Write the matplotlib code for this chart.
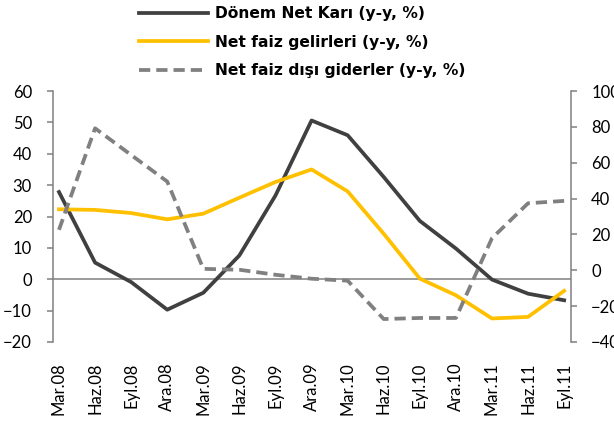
import matplotlib
matplotlib.use("Agg")
import matplotlib.pyplot as plt
import numpy as np

plt.rcParams['font.family'] = ['Lato', 'DejaVu Sans']

categories = ["Mar.08", "Haz.08", "Eyl.08", "Ara.08", "Mar.09", "Haz.09", "Eyl.09", "Ara.09",
              "Mar.10", "Haz.10", "Eyl.10", "Ara.10", "Mar.11", "Haz.11", "Eyl.11"]
net_kar = [27.8, 5.3, -0.9, -9.7, -4.3, 7.6, 26.7, 50.6, 45.9, 32.6, 18.6, 9.8, -0.1, -4.6, -6.7]
faiz_gelir = [22.3, 22.1, 21.1, 19.1, 20.9, 26.0, 31.0, 35.0, 28.0, 14.5, 0.2, -5.1, -12.5, -12.0, -3.7]
faiz_disi_gider = [22.6, 79.2, 64.3, 49.5, 0.8, 0.3, -2.5, -4.7, -5.8, -27.2, -26.6, -26.6, 17.9, 37.4, 38.7]

left_ticks = [-20, -10, 0, 10, 20, 30, 40, 50, 60]
right_ticks = [-40, -20, 0, 20, 40, 60, 80, 100]

fig = plt.figure(figsize=(6.14, 4.25), dpi=100)
ax = fig.add_axes([52.5/614, 1-342/425, (571-52.5)/614, (342-91)/425])
ax2 = ax.twinx()

x = np.arange(len(categories))
gray = "#808080"
l1, = ax.plot(x, net_kar, color="#404040", lw=2.7, zorder=3)
l2, = ax.plot(x, faiz_gelir, color="#FFC000", lw=2.7, zorder=3)
l3, = ax2.plot(x, faiz_disi_gider, color=gray, lw=2.7, dashes=(3, 1.6), zorder=3)

ax.axhline(0, color=gray, lw=1.1, zorder=1)
ax.set_ylim(-20, 60)
ax2.set_ylim(-40, 100)
ax.set_xlim(-0.18, 14.19)
ax.set_yticks(left_ticks)
ax2.set_yticks(right_ticks)
ax.set_xticks(x)
ax.set_xticklabels(categories, rotation=90, fontsize=12)

for a in (ax, ax2):
    a.spines['top'].set_visible(False)
    a.spines['bottom'].set_visible(False)
    a.spines['left'].set_color(gray)
    a.spines['right'].set_color(gray)
    a.spines['left'].set_linewidth(1.1)
    a.spines['right'].set_linewidth(1.1)
ax2.spines['left'].set_visible(False)
ax.spines['right'].set_visible(False)

ax.tick_params(axis='y', direction='out', length=4, width=1.1, color=gray, labelsize=12, pad=10.8)
ax2.tick_params(axis='y', direction='out', length=4, width=1.1, color=gray, labelsize=12, pad=10.5)
ax.tick_params(axis='x', length=0, pad=14.7)

leg = fig.legend([l1, l2, l3],
                 ["Dönem Net Karı (y-y, %)", "Net faiz gelirleri (y-y, %)", "Net faiz dışı giderler (y-y, %)"],
                 loc="upper left", bbox_to_anchor=(139/614, 1 - 6/425), frameon=False,
                 prop={'family': 'DejaVu Sans', 'weight': 'bold', 'size': 11.2}, handlelength=4.45,
                 handletextpad=0.45, labelspacing=0.88, borderaxespad=0.0, borderpad=0.0)

fig.savefig("out.png", dpi=100)
